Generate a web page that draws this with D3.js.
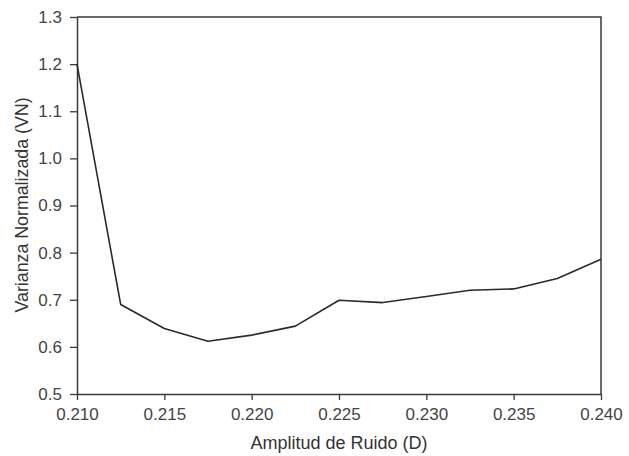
<!DOCTYPE html>
<html><head><meta charset="utf-8">
<script src="https://cdn.jsdelivr.net/npm/d3@7"></script>
<style>body{margin:0;background:#fff}svg{display:block}</style>
</head><body>
<svg id="c" width="629" height="456"></svg>
<script>
const xValues = [0.210,0.2125,0.215,0.2175,0.220,0.2225,0.225,0.2275,0.230,0.2325,0.235,0.2375,0.240];
const yValues = [1.200,0.690,0.639,0.612,0.625,0.644,0.699,0.694,0.707,0.720,0.723,0.745,0.786];
const xTicks = [0.210,0.215,0.220,0.225,0.230,0.235,0.240];
const yTicks = [0.5,0.6,0.7,0.8,0.9,1.0,1.1,1.2,1.3];
const xTitle = "Amplitud de Ruido (D)";
const yTitle = "Varianza Normalizada (VN)";

const svg = d3.select("#c");
const L=77,R=601,T=17,B=394;
const x = d3.scaleLinear().domain([0.210,0.240]).range([L,R]);
const y = d3.scaleLinear().domain([0.5,1.3]).range([B,T]);
const font = "Arial, 'Liberation Sans', sans-serif";
const axisColor = "#3a3a3a";

// frame top/right
svg.append("path").attr("d",`M${L},${T}H${R}V${B}`).attr("fill","none").attr("stroke",axisColor).attr("stroke-width",1.5);

const xa = svg.append("g").attr("transform",`translate(0,${B})`)
  .call(d3.axisBottom(x).tickValues(xTicks).tickFormat(d3.format(".3f")).tickSize(6).tickSizeOuter(0).tickPadding(8));
const ya = svg.append("g").attr("transform",`translate(${L},0)`)
  .call(d3.axisLeft(y).tickValues(yTicks).tickFormat(d3.format(".1f")).tickSize(7).tickSizeOuter(0).tickPadding(8));
[xa,ya].forEach(g=>{
  g.select(".domain").attr("stroke",axisColor).attr("stroke-width",1.5);
  g.selectAll(".tick line").attr("stroke",axisColor).attr("stroke-width",1.3);
  g.selectAll(".tick text").attr("fill","#444").style("font-family",font).style("font-size","17px");
});

const line = d3.line().x((d,i)=>x(xValues[i])).y(d=>y(d));
svg.append("path").datum(yValues).attr("d",line).attr("fill","none").attr("stroke","#2a2a2a").attr("stroke-width",1.6).attr("stroke-linejoin","round");

svg.append("text").attr("x",339).attr("y",449).attr("text-anchor","middle")
  .attr("fill","#333").style("font-family",font).style("font-size","18px").text(xTitle);
svg.append("text").attr("transform",`translate(28,205) rotate(-90)`).attr("text-anchor","middle")
  .attr("fill","#333").style("font-family",font).style("font-size","17.8px").text(yTitle);
</script>
</body></html>
